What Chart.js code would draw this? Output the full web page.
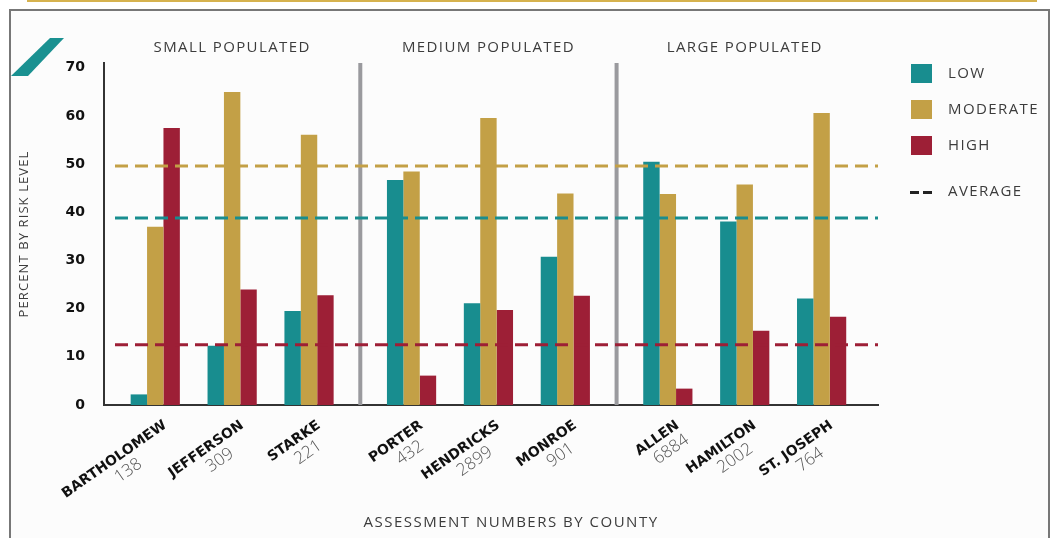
<!DOCTYPE html>
<html>
<head>
<meta charset="utf-8">
<script src="https://cdn.jsdelivr.net/npm/chart.js@4.4.1/dist/chart.umd.min.js"></script>
<style>
  html, body { margin: 0; padding: 0; background: #fff; }
  body { width: 1050px; height: 552px; position: relative; overflow: hidden; }
  .rule { position: absolute; left: 27px; top: 0; width: 1010px; height: 2px; background: #d6b24e; }
  .frame { position: absolute; left: 9px; top: 9px; width: 1041px; height: 529px; box-sizing: border-box;
           border: 2px solid #777; border-bottom: none; background: #fcfcfc; }
  canvas { position: absolute; left: 0; top: 0; }
</style>
</head>
<body>
<div class="rule"></div>
<div class="frame"></div>
<canvas id="chart" width="1050" height="552"></canvas>
<script>
const groupNames = ['SMALL POPULATED', 'MEDIUM POPULATED', 'LARGE POPULATED'];
const counties = ['BARTHOLOMEW', 'JEFFERSON', 'STARKE', 'PORTER', 'HENDRICKS', 'MONROE', 'ALLEN', 'HAMILTON', 'ST. JOSEPH'];
const assessments = ['138', '309', '221', '432', '2899', '901', '6884', '2002', '764'];
const countyGroup = [0, 0, 0, 1, 1, 1, 2, 2, 2];

const seriesNames = ['LOW', 'MODERATE', 'HIGH'];
const lowValues = [2.2, 12.3, 19.5, 46.7, 21.1, 30.8, 50.5, 38.1, 22.1];
const moderateValues = [37.0, 65.0, 56.1, 48.5, 59.6, 43.9, 43.8, 45.8, 60.6];
const highValues = [57.5, 24.0, 22.8, 6.1, 19.7, 22.7, 3.4, 15.4, 18.3];
const averageValues = [38.8, 49.6, 12.5];

const yTicks = [0, 10, 20, 30, 40, 50, 60, 70];

const colors = ['#188d8f', '#c3a046', '#9d1f36'];
const textGray = '#3c3c3c';
const lightFont = "'Open Sans', sans-serif";
const boldFont = "'DejaVu Sans', sans-serif";

// counties sit three slots apart, with one extra slot between population groups
const slot = (i) => 3 * i + countyGroup[i];
const series = [lowValues, moderateValues, highValues];

const text = (ctx, str, x, y, size, spacing, align = 'center') => {
    ctx.font = `400 ${size}px ${lightFont}`;
    ctx.fillStyle = textGray;
    ctx.textAlign = align;
    ctx.textBaseline = 'middle';
    ctx.letterSpacing = `${spacing}px`;
    ctx.fillText(str, x, y);
    ctx.letterSpacing = '0px';
};

const overlay = {
    id: 'overlay',
    beforeDatasetsDraw(chart) {
        const { ctx, chartArea, scales: { x } } = chart;
        ctx.save();
        ctx.fillStyle = '#9a9a9e';
        groupNames.slice(0, -1).forEach((_, g) => {
            const last = countyGroup.lastIndexOf(g);
            const px = x.getPixelForValue(slot(last) + 2);
            ctx.fillRect(px - 2, chartArea.top, 4, chartArea.bottom - chartArea.top);
        });
        ctx.restore();
    },
    afterDatasetsDraw(chart) {
        const { ctx, chartArea, scales: { y } } = chart;
        ctx.save();
        ctx.lineWidth = 3;
        ctx.setLineDash([13, 7]);
        averageValues.forEach((v, k) => {
            const py = y.getPixelForValue(v);
            ctx.strokeStyle = colors[k];
            ctx.beginPath();
            ctx.moveTo(chartArea.left + 11, py);
            ctx.lineTo(chartArea.right, py);
            ctx.stroke();
        });
        ctx.restore();
    },
    afterDraw(chart) {
        const { ctx, chartArea, scales: { x } } = chart;
        ctx.save();

        // logo mark
        ctx.fillStyle = '#1a9191';
        ctx.beginPath();
        ctx.moveTo(50, 38); ctx.lineTo(64, 38); ctx.lineTo(28, 76); ctx.lineTo(11, 76);
        ctx.closePath();
        ctx.fill();

        // group headers over the middle county of each group
        groupNames.forEach((name, g) => {
            const idx = countyGroup.filter((c) => c === g).length;
            const first = countyGroup.indexOf(g);
            const mid = first + Math.floor(idx / 2);
            text(ctx, name, x.getPixelForValue(slot(mid)), 48, 15, 1.4);
        });

        // county labels
        counties.forEach((name, i) => {
            const px = x.getPixelForValue(slot(i));
            ctx.save();
            ctx.translate(px + 10, chartArea.bottom + 19);
            ctx.rotate(-35 * Math.PI / 180);
            ctx.font = `bold 14px ${boldFont}`;
            ctx.fillStyle = '#111';
            ctx.textAlign = 'right';
            ctx.textBaseline = 'middle';
            ctx.fillText(name, 0, 0);
            const w = ctx.measureText(name).width;
            ctx.font = `300 17px ${lightFont}`;
            ctx.fillStyle = '#555';
            ctx.textAlign = 'center';
            ctx.fillText(assessments[i], -w / 2 + 5, 17);
            ctx.restore();
        });

        // axis titles
        text(ctx, 'ASSESSMENT NUMBERS BY COUNTY', 511, 523, 15, 1.5);
        ctx.save();
        ctx.translate(24, 234);
        ctx.rotate(-Math.PI / 2);
        text(ctx, 'PERCENT BY RISK LEVEL', 0, 0, 13, 1.1);
        ctx.restore();

        // legend
        const legendTop = [64, 100, 136];
        seriesNames.forEach((name, k) => {
            ctx.fillStyle = colors[k];
            ctx.fillRect(911, legendTop[k], 21, 19);
            text(ctx, name, 948, legendTop[k] + 9.5, 15, 1.4, 'left');
        });
        ctx.fillStyle = '#222';
        ctx.fillRect(910, 191, 9, 3);
        ctx.fillRect(923, 191, 9, 3);
        text(ctx, 'AVERAGE', 948, 192, 15, 1.4, 'left');

        ctx.restore();
    },
};

new Chart(document.getElementById('chart'), {
    type: 'bar',
    data: {
        datasets: series.map((values, k) => ({
            label: seriesNames[k],
            data: values.map((v, i) => ({ x: slot(i), y: v })),
            backgroundColor: colors[k],
            borderWidth: 0,
            categoryPercentage: 0.64,
            barPercentage: 1,
        })),
    },
    options: {
        responsive: false,
        animation: false,
        layout: { padding: { left: 10, right: 172, top: 63, bottom: 10 } },
        plugins: {
            legend: { display: false },
            tooltip: { enabled: false },
        },
        scales: {
            x: {
                type: 'linear',
                min: -2,
                max: 28.2,
                offset: false,
                grid: { display: false, drawTicks: false },
                border: { display: true, color: '#333', width: 2 },
                ticks: { display: false },
                afterBuildTicks: (scale) => {
                    scale.ticks = counties.map((_, i) => ({ value: slot(i) }));
                },
                afterFit: (scale) => { scale.height = 137; },
            },
            y: {
                min: 0,
                max: 71,
                grid: { display: false, drawTicks: false },
                border: { display: true, color: '#333', width: 2 },
                ticks: {
                    padding: 19,
                    color: '#111',
                    font: { family: 'DejaVu Sans', size: 14, weight: 'bold' },
                },
                afterBuildTicks: (scale) => {
                    scale.ticks = yTicks.map((v) => ({ value: v }));
                },
                afterFit: (scale) => { scale.width = 94; },
            },
        },
    },
    plugins: [overlay],
});
</script>
</body>
</html>
